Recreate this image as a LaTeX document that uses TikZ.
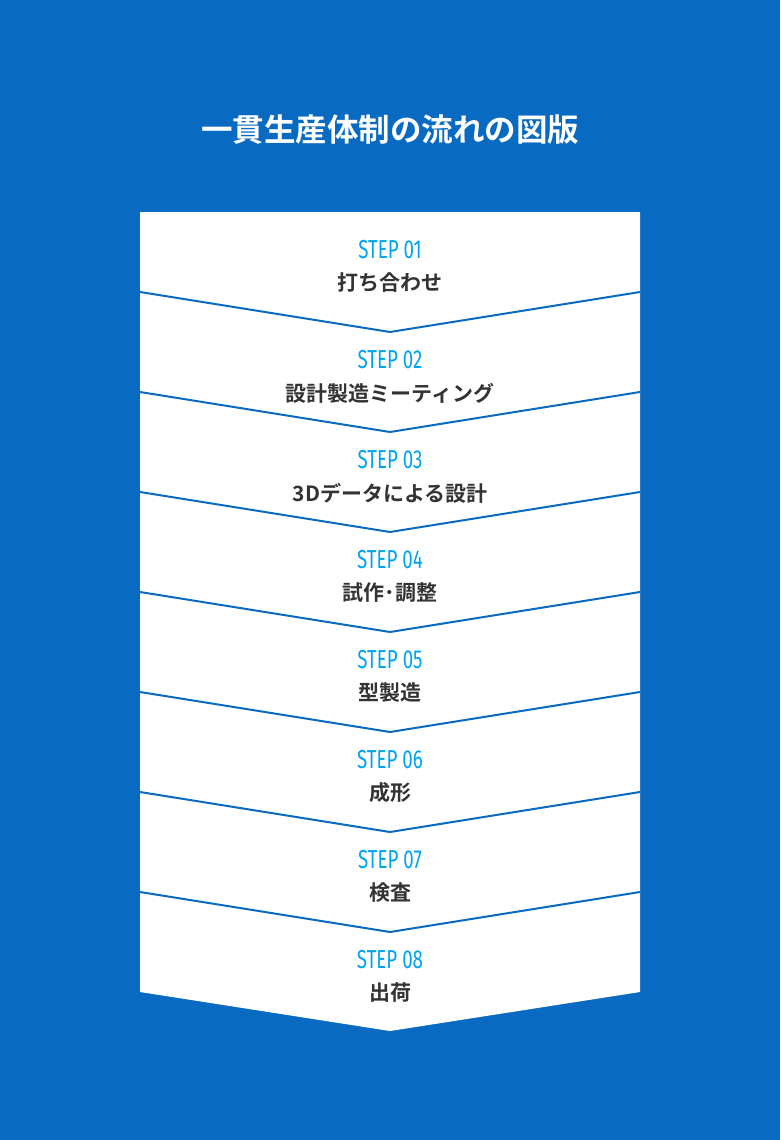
\documentclass[tikz,border=0pt]{standalone}
\usepackage{fontspec}
\setmainfont{Noto Sans CJK JP}[BoldFont={Noto Sans CJK JP Bold}]
\newfontfamily\stepfont{Fira Sans}
\begin{document}
\begin{tikzpicture}[x=1pt, y=-1pt]
\definecolor{MyBlue}{RGB}{9, 106, 194}
\definecolor{MyCyan}{RGB}{0, 163, 237}
\definecolor{MyGray}{RGB}{51, 51, 51}
\tikzset{
steplabel/.style={text=MyCyan, inner sep=0, font=\fontsize{26}{26}\stepfont},
tasklabel/.style={text=MyGray, inner sep=0, font=\fontsize{21}{21}\selectfont\bfseries}
}
\fill[MyBlue] (0,0) rectangle (780,1140);
\node[text=white, inner sep=0, font=\fontsize{31.5}{31.5}\selectfont\bfseries] (title) at (390,130) {一貫生産体制の流れの図版};
\fill[white] (140,212) -- (640,212) -- (640,992) -- (390,1031) -- (140,992) -- cycle;
\foreach \y in {292,392,...,892}{
\draw[MyBlue, line width=2] (140,\y) -- (390,\y+40) -- (640,\y);
}
\foreach \n/\t/\y in {01/打ち合わせ/250, 02/設計製造ミーティング/360, 03/3Dデータによる設計/460, 04/試作･調整/560,
05/型製造/660, 06/成形/760, 07/検査/860, 08/出荷/960}{
\node[steplabel] (step\n) at (390,\y) {\scalebox{0.72}[1]{STEP \n}};
\node[tasklabel] (task\n) at (390,\y+33) {\t};
}
\end{tikzpicture}
\end{document}
